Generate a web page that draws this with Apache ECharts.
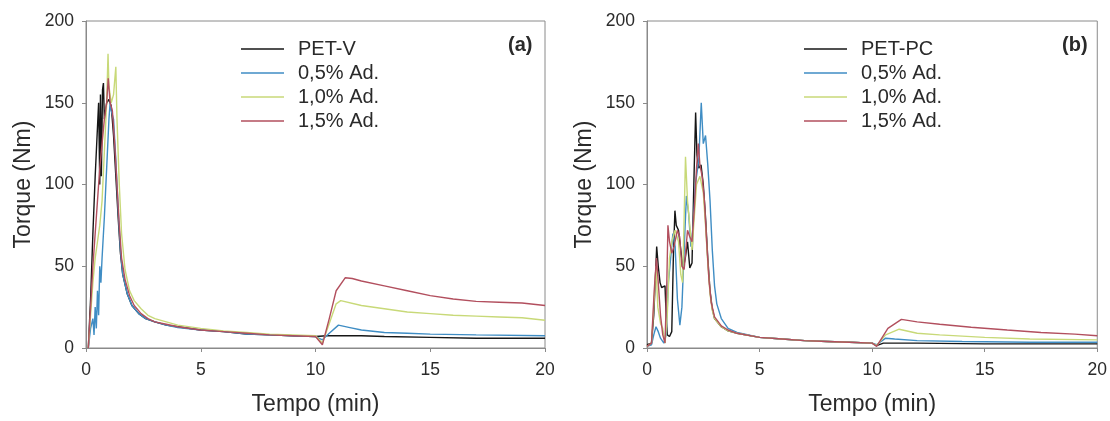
<!DOCTYPE html>
<html>
<head>
<meta charset="utf-8">
<script src="https://cdn.jsdelivr.net/npm/echarts@6/dist/echarts.min.js"></script>
<style>
  html, body { margin: 0; padding: 0; background: #fff; }
  #chart { width: 1110px; height: 421px; }
</style>
</head>
<body>
<div id="chart"></div>
<script>
// nomes das series
const namesA = ['PET-V', '0,5% Ad.', '1,0% Ad.', '1,5% Ad.'];
const namesB = ['PET-PC', '0,5% Ad.', '1,0% Ad.', '1,5% Ad.'];
const colors = ['#161616', '#3f8dc4', '#c8d978', '#b24f5e'];

// eixos
const xTicks = [0, 5, 10, 15, 20];
const yTicks = [0, 50, 100, 150, 200];

// (a) PET-V, [tempo (min), torque (Nm)]
const aPetV = [[0.1,0],[0.2,30],[0.3,70],[0.4,105],[0.5,135],[0.55,150],[0.6,100],[0.63,155],[0.67,105],[0.72,158],[0.76,162],[0.8,140],[0.9,150],[1.0,152],[1.1,148],[1.2,130],[1.3,105],[1.4,80],[1.5,58],[1.6,45],[1.8,33],[2.0,26],[2.3,21],[2.6,18],[3,16],[3.5,14],[4,13],[5,11],[6,10],[7,8.5],[8,8],[9,7.5],[10,7],[10.5,7.5],[11,7.5],[12,7.5],[13,7],[15,6.5],[17,6],[20,6]];
const aAd05 = [[0.1,0],[0.2,12],[0.3,18],[0.35,8],[0.4,25],[0.45,12],[0.5,35],[0.55,20],[0.6,50],[0.65,40],[0.7,55],[0.8,80],[0.9,110],[1.0,140],[1.05,150],[1.1,145],[1.2,140],[1.3,115],[1.4,85],[1.5,60],[1.6,45],[1.8,33],[2.0,26],[2.3,21],[2.6,18],[3,16],[3.5,14],[4,12.5],[5,11],[6,10],[7,8.5],[8,8],[9,7.5],[10,7],[10.3,5],[10.6,9],[11,14],[11.5,12.5],[12,11],[13,9.5],[14,9],[15,8.5],[17,8],[20,7.5]];
const aAd10 = [[0.1,0],[0.2,20],[0.3,40],[0.4,55],[0.5,65],[0.6,75],[0.7,90],[0.8,120],[0.9,150],[0.96,180],[1.0,160],[1.1,150],[1.2,155],[1.3,172],[1.35,140],[1.45,100],[1.55,70],[1.7,48],[1.9,35],[2.1,29],[2.4,24],[2.7,20],[3,18],[3.5,16],[4,14],[5,12],[6,10.5],[7,9.5],[8,8.5],[9,8],[10,7.5],[10.3,3],[10.6,15],[10.9,27],[11.1,29],[12,26],[13,24],[14,22],[15,21],[16,20],[17,19.5],[18,19],[19,18.5],[20,17]];
const aAd15 = [[0.1,0],[0.2,25],[0.3,50],[0.4,70],[0.5,90],[0.6,110],[0.7,125],[0.8,140],[0.9,150],[0.97,165],[1.05,150],[1.15,145],[1.25,125],[1.35,100],[1.45,75],[1.55,55],[1.7,42],[1.9,32],[2.1,26],[2.4,21],[2.7,18],[3,16],[3.5,14.5],[4,13],[5,11],[6,10],[7,9],[8,8],[9,7.5],[10,7],[10.3,2],[10.6,18],[10.9,35],[11.3,43],[11.6,42.5],[12,41],[13,38],[14,35],[15,32],[16,30],[17,28.5],[18,28],[19,27.5],[20,26]];

// (b) PET-PC
const bPetPC = [[0,2],[0.2,3],[0.3,20],[0.38,45],[0.43,62],[0.5,50],[0.58,40],[0.65,37],[0.8,38],[0.85,20],[0.9,8],[1.0,7],[1.1,10],[1.17,55],[1.24,84],[1.3,75],[1.4,72],[1.5,60],[1.6,48],[1.7,55],[1.8,65],[1.9,49],[2.0,52],[2.08,100],[2.16,144],[2.22,118],[2.3,110],[2.4,112],[2.5,100],[2.6,80],[2.7,55],[2.8,35],[2.9,24],[3.0,18],[3.3,13],[3.6,10.5],[4,9],[5,6.5],[6,5.5],[7,4.5],[8,4],[9,3.5],[10,3],[10.2,1.5],[10.5,3],[12,3],[15,2.5],[20,2.5]];
const bAd05 = [[0,1],[0.2,2],[0.3,8],[0.4,13],[0.5,10],[0.6,6],[0.75,3],[0.85,8],[0.95,40],[1.05,55],[1.15,70],[1.25,62],[1.35,30],[1.46,14],[1.55,25],[1.65,60],[1.75,93],[1.85,82],[1.95,62],[2.05,75],[2.15,100],[2.3,115],[2.41,150],[2.5,125],[2.6,130],[2.7,112],[2.8,90],[2.9,60],[3.0,38],[3.1,27],[3.3,18],[3.6,12],[4,9.5],[5,6.5],[6,5.5],[7,4.5],[8,4],[9,3.5],[10,3],[10.2,2],[10.6,6],[11,5.5],[12,4.5],[14,4],[17,3.5],[20,3.5]];
const bAd10 = [[0,1],[0.2,3],[0.32,30],[0.4,50],[0.48,25],[0.6,15],[0.7,12],[0.8,3],[0.9,20],[1.0,55],[1.1,65],[1.25,72],[1.4,65],[1.5,45],[1.58,40],[1.65,80],[1.71,117],[1.8,90],[1.9,75],[2.0,60],[2.1,80],[2.2,100],[2.35,105],[2.5,95],[2.6,75],[2.7,52],[2.8,33],[2.9,23],[3.0,18],[3.3,13],[3.6,10.5],[4,9],[5,6.5],[6,5.5],[7,4.5],[8,4],[9,3.5],[10,3],[10.2,1.5],[10.6,8],[11.2,11.5],[12,9],[13,8],[15,6.5],[17,5.5],[20,5]];
const bAd15 = [[0,1],[0.2,3],[0.32,35],[0.42,55],[0.5,40],[0.6,20],[0.7,8],[0.8,3],[0.88,40],[0.93,75],[1.0,65],[1.1,58],[1.2,62],[1.35,72],[1.45,68],[1.55,50],[1.65,48],[1.8,72],[1.9,68],[2.0,65],[2.1,85],[2.2,110],[2.28,125],[2.35,112],[2.45,105],[2.55,90],[2.65,65],[2.75,42],[2.85,28],[3.0,19],[3.3,13.5],[3.6,11],[4,9],[5,6.5],[6,5.5],[7,4.5],[8,4],[9,3.5],[10,3],[10.2,1],[10.7,12],[11.3,17.5],[12,16],[13,14.5],[14.4,12.7],[16,11],[17.5,9.5],[19,8.5],[20,7.5]];

const dataA = [aPetV, aAd05, aAd10, aAd15];
const dataB = [bPetPC, bAd05, bAd10, bAd15];

const font = 'Liberation Sans, Arial, sans-serif';
const textColor = '#2a2a2a';
const frame = '#8a8a8a';

function xAxis(idx) {
    return {
        gridIndex: idx, type: 'value', min: xTicks[0], max: xTicks[xTicks.length - 1], interval: 5,
        name: 'Tempo (min)', nameLocation: 'middle', nameGap: 45,
        nameTextStyle: { fontFamily: font, fontSize: 23, color: textColor },
        axisLine: { lineStyle: { color: frame } },
        axisTick: { length: 4, lineStyle: { color: frame } },
        axisLabel: { fontFamily: font, fontSize: 17.5, color: textColor, margin: 13 },
        splitLine: { show: false }
    };
}
function yAxis(idx) {
    return {
        gridIndex: idx, type: 'value', min: yTicks[0], max: yTicks[yTicks.length - 1], interval: 50,
        name: 'Torque (Nm)', nameLocation: 'middle', nameGap: 51,
        nameTextStyle: { fontFamily: font, fontSize: 23, color: textColor },
        axisLine: { lineStyle: { color: frame } },
        axisTick: { length: 4, lineStyle: { color: frame } },
        axisLabel: { fontFamily: font, fontSize: 17.5, color: textColor, margin: 12 },
        splitLine: { show: false }
    };
}
function legend(names, left) {
    return {
        data: names, orient: 'vertical', left: left, top: 34,
        icon: 'rect', itemWidth: 43, itemHeight: 1.5, itemGap: 4, itemSpacing: 0,
        textStyle: { fontFamily: font, fontSize: 20, color: textColor, lineHeight: 20, padding: [0, 0, 0, 9] },
        selectedMode: false
    };
}

const series = [];
dataA.forEach((d, i) => series.push({
    name: namesA[i], type: 'line', xAxisIndex: 0, yAxisIndex: 0, data: d,
    showSymbol: false, lineStyle: { width: 1.4, color: colors[i] }, itemStyle: { color: colors[i] }, z: i === 0 ? 2 : 3
}));
dataB.forEach((d, i) => series.push({
    name: namesB[i], type: 'line', xAxisIndex: 1, yAxisIndex: 1, data: d,
    showSymbol: false, lineStyle: { width: 1.4, color: colors[i] }, itemStyle: { color: colors[i] }, z: i === 0 ? 2 : 3
}));

const chart = echarts.init(document.getElementById('chart'));
chart.setOption({
    animation: false,
    backgroundColor: '#fff',
    grid: [
        { left: 86, top: 21, width: 459, height: 330, show: true, borderColor: frame, borderWidth: 1 },
        { left: 647, top: 21, width: 453, height: 329, show: true, borderColor: frame, borderWidth: 1 }
    ],
    xAxis: [xAxis(0), xAxis(1)],
    yAxis: [yAxis(0), yAxis(1)],
    legend: [legend(namesA, 236), legend(namesB, 799)],
    graphic: [
        { type: 'text', left: 508, top: 35, style: { text: '(a)', fontFamily: font, fontSize: 20, fontWeight: 'bold', fill: textColor } },
        { type: 'text', left: 1062, top: 35, style: { text: '(b)', fontFamily: font, fontSize: 20, fontWeight: 'bold', fill: textColor } }
    ],
    series: series
});
</script>
</body>
</html>
